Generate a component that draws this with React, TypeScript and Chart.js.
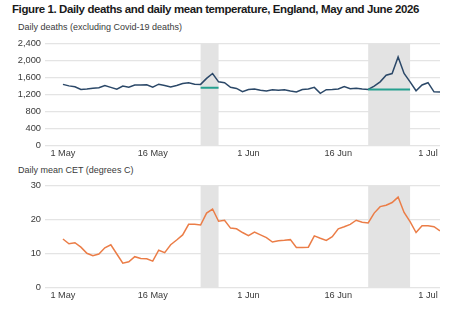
import React, { useEffect, useRef } from "react";
import { Chart, registerables } from "chart.js";

Chart.register(...registerables);

// Daily deaths (excluding Covid-19), one value per day from 1 May
const deaths = [
  1440, 1405, 1385, 1320, 1330, 1350, 1360, 1415, 1370, 1325,
  1400, 1375, 1425, 1425, 1430, 1375, 1445, 1415, 1380, 1415,
  1460, 1480, 1445, 1440, 1580, 1695, 1500, 1480, 1370, 1345,
  1270, 1320, 1330, 1300, 1285, 1315, 1300, 1315, 1285, 1260,
  1320, 1330, 1370, 1230, 1315, 1320, 1330, 1390, 1340, 1350,
  1330, 1322, 1400, 1500, 1655, 1695, 2085, 1695, 1500, 1290,
  1425, 1480, 1266, 1260,
];

// Daily mean Central England Temperature (degrees C), from 1 May
const temperature = [
  14.3, 12.9, 13.2, 11.9, 10.1, 9.4, 9.9, 11.7, 12.6, 9.9,
  7.2, 7.6, 9.1, 8.6, 8.5, 7.8, 11.0, 10.3, 12.6, 14.0,
  15.5, 18.6, 18.6, 18.4, 21.9, 23.1, 19.5, 19.8, 17.5, 17.3,
  16.2, 15.3, 16.3, 15.5, 14.7, 13.4, 13.8, 13.9, 14.1, 11.8,
  11.8, 11.9, 15.2, 14.5, 13.9, 15.0, 17.3, 17.9, 18.6, 19.8,
  19.2, 19.0, 21.9, 23.8, 24.2, 25.0, 26.6, 22.1, 19.4, 16.2,
  18.2, 18.2, 17.9, 16.7,
];

// Day offsets (from 1 May) of the labelled dates
const tickDays = [0, 15, 31, 46, 61];
const tickLabels = ["1 May", "16 May", "1 Jun", "16 Jun", "1 Jul"];

// Heat periods (start and end day offsets) and the expected deaths over each
const heatStarts = [23, 51];
const heatEnds = [26, 58];
const expectedDeaths = [1360, 1320];

const FONT = '"Liberation Sans", Arial, Helvetica, sans-serif';
const TEXT = "#3a3a3a";

type Series = { x: number; y: number }[];

function heatShade(starts: number[], ends: number[]) {
  return {
    id: "heatShade",
    beforeDatasetsDraw(chart: any) {
      const { ctx, chartArea, scales } = chart;
      ctx.save();
      ctx.fillStyle = "#e3e3e3";
      starts.forEach((s, i) => {
        const x0 = scales.x.getPixelForValue(s);
        const x1 = scales.x.getPixelForValue(ends[i]);
        ctx.fillRect(x0, chartArea.top, x1 - x0, chartArea.bottom - chartArea.top);
      });
      ctx.restore();
    },
  };
}

function Panel(props: {
  top: number;
  values: number[];
  color: string;
  yMax: number;
  yStep: number;
  baselines?: number[];
}) {
  const ref = useRef<HTMLCanvasElement | null>(null);

  useEffect(() => {
    if (!ref.current) return;
    const main: Series = props.values.map((v, i) => ({ x: i, y: v }));
    const datasets: any[] = [];
    (props.baselines || []).forEach((b, i) => {
      datasets.push({
        data: [
          { x: heatStarts[i], y: b },
          { x: heatEnds[i], y: b },
        ],
        borderColor: "#26a08f",
        borderWidth: 2,
        pointRadius: 0,
      });
    });
    datasets.push({
      data: main,
      borderColor: props.color,
      borderWidth: 1.5,
      pointRadius: 0,
      tension: 0,
    });

    const chart = new Chart(ref.current, {
      type: "line",
      data: { datasets },
      plugins: [heatShade(heatStarts, heatEnds)],
      options: {
        animation: false,
        responsive: false,
        maintainAspectRatio: false,
        layout: { padding: { top: 13.5, right: 25, left: 0, bottom: 0 } },
        plugins: { legend: { display: false }, tooltip: { enabled: false } },
        scales: {
          x: {
            type: "linear",
            min: -3,
            max: 63,
            grid: { display: false, drawTicks: false },
            border: { display: false },
            afterBuildTicks: (s: any) => {
              s.ticks = tickDays.map((v) => ({ value: v }));
            },
            afterFit: (s: any) => {
              s.height = 19.3;
            },
            ticks: {
              padding: 2,
              maxRotation: 0,
              autoSkip: false,
              color: TEXT,
              font: { family: FONT, size: 9.2 },
              callback: (_v: any, i: number) => tickLabels[i],
            },
          },
          y: {
            min: 0,
            max: props.yMax,
            afterFit: (s: any) => {
              s.width = 45;
            },
            grid: { color: "#e4e4e4", drawTicks: false, lineWidth: 1.2 },
            border: { display: false },
            ticks: {
              stepSize: props.yStep,
              padding: 4,
              color: TEXT,
              font: { family: FONT, size: 9.3 },
            },
          },
        },
      },
    } as any);
    return () => chart.destroy();
  }, []);

  return (
    <canvas
      ref={ref}
      width={465}
      height={135}
      style={{ position: "absolute", left: 0, top: props.top, width: 465, height: 135 }}
    />
  );
}

export default function App() {
  return (
    <div
      style={{
        position: "absolute",
        left: 0,
        top: 0,
        width: 465,
        height: 332,
        background: "#fff",
        overflow: "hidden",
        fontFamily: FONT,
      }}
    >
      <div
        style={{
          position: "absolute",
          left: 12,
          top: 4.3,
          fontSize: 11.5,
          lineHeight: "11.5px",
          fontWeight: 700,
          letterSpacing: -0.4,
          color: "#1a1a1a",
          whiteSpace: "nowrap",
        }}
      >
        Figure 1. Daily deaths and daily mean temperature, England, May and June 2026
      </div>
      <div
        style={{
          position: "absolute",
          left: 18,
          top: 23.1,
          fontSize: 9,
          lineHeight: "9px",
          color: TEXT,
          whiteSpace: "nowrap",
        }}
      >
        Daily deaths (excluding Covid-19 deaths)
      </div>
      <Panel top={30} values={deaths} color="#2b4868" yMax={2400} yStep={400} baselines={expectedDeaths} />
      <div
        style={{
          position: "absolute",
          left: 18,
          top: 165.9,
          fontSize: 9,
          lineHeight: "9px",
          color: TEXT,
          whiteSpace: "nowrap",
        }}
      >
        Daily mean CET (degrees C)
      </div>
      <Panel top={172} values={temperature} color="#eb7d47" yMax={30} yStep={10} />
    </div>
  );
}
